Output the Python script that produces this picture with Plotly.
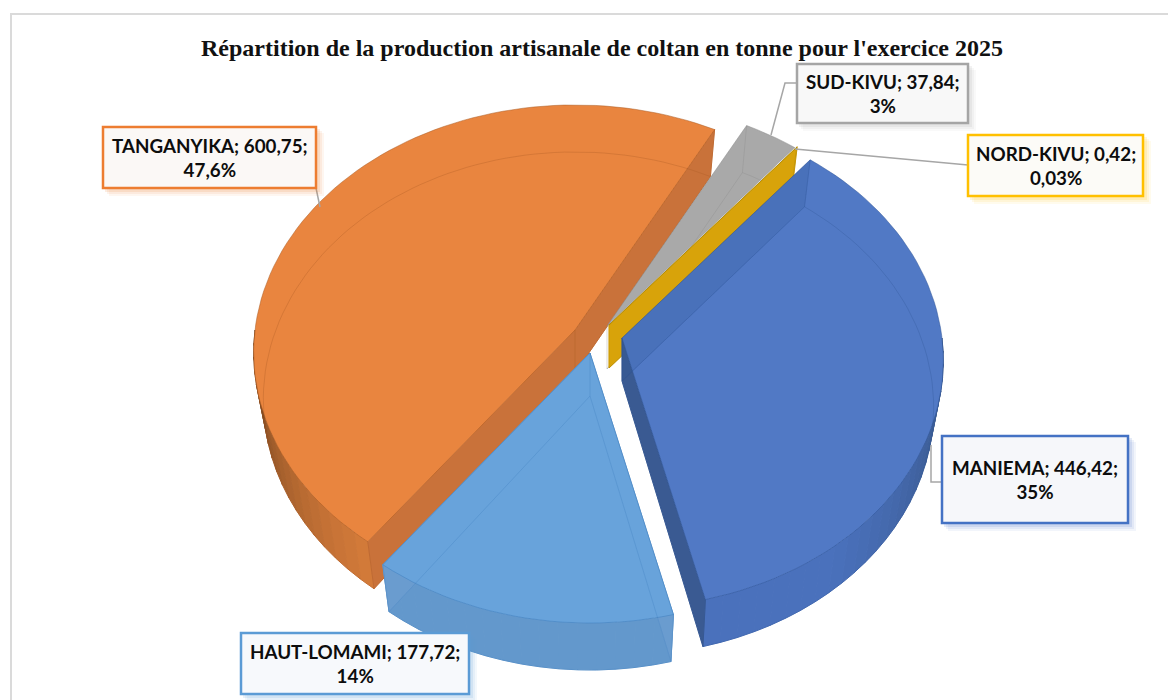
import plotly.graph_objects as go
import math

# ---- data ----
regions = ["TANGANYIKA", "SUD-KIVU", "NORD-KIVU", "MANIEMA", "HAUT-LOMAMI"]
tonnes = [600.75, 37.84, 0.42, 446.42, 177.72]
share_labels = ["47,6%", "3%", "0,03%", "35%", "14%"]
title_text = "Répartition de la production artisanale de coltan en tonne pour l'exercice 2025"

# ---- styling and layout ----
top_colors = ["#E9853F", "#A9A9A9", "#DDA80C", "#5179C5", "#68A3DB"]
cut_colors = ["#C9723A", "#8E8E8E", "#D8A30A", "#3A5A92", "#6A9CCF"]
wall_far = ["#6E3F1C", "#8E8E8E", "#B98E10", "#34517F", "#6398CC"]
wall_near = ["#D47B3A", "#8E8E8E", "#B98E10", "#4A71BC", "#6398CC"]
line_colors = ["#A85A22", "#8A8A8A", "#A88608", "#2F5597", "#3F7FBF"]
apexes = [(575, 330), (607, 326), (609, 325), (622, 338), (590, 353)]
START = 216.9
RX, RY, PERSP, DEPTH, BASE_SCALE = 320, 245.5, 0.0909, 47, 0.97

boxes = [
    (103, 127, 316, 188, "#ED7D31", "#FBF8F6"),
    (797, 64, 968, 123, "#A5A5A5", "#F8F8F8"),
    (968, 135, 1143, 196, "#FFC000", "#FCFBF7"),
    (942, 436, 1128, 523, "#4472C4", "#F6F7FA"),
    (241, 633, 469, 694, "#5B9BD5", "#F7F9FC"),
]
leaders = [
    [(316, 188), (320, 207)],
    [(797, 83), (785, 83), (771, 135)],
    [(968, 165), (795, 149)],
    [(942, 482), (931, 482), (931, 445)],
]


def point(i, deg, level=0):
    ax, ay = apexes[i]
    t = math.radians(deg)
    u, v = math.sin(t), -math.cos(t)
    w = 1 / (1 - PERSP * v)
    x, y = RX * u * w, RY * v * w
    if level:
        return ax + x * BASE_SCALE, ay + DEPTH + y
    return ax + x, ay + y


def apex(i, level=0):
    ax, ay = apexes[i]
    return (ax, ay + DEPTH - 4) if level else (ax, ay)


def arc(i, a, b, level=0, step=2.0):
    n = max(1, int(abs(b - a) / step))
    return [point(i, a + (b - a) * k / n, level) for k in range(n + 1)]


def mix(c1, c2, f):
    p = [int(c1[j:j + 2], 16) for j in (1, 3, 5)]
    q = [int(c2[j:j + 2], 16) for j in (1, 3, 5)]
    return "#%02X%02X%02X" % tuple(round(a + (b - a) * f) for a, b in zip(p, q))


fig = go.Figure()


def poly(pts, fill, name, line=None, lw=1.0):
    xs = [p[0] for p in pts] + [pts[0][0]]
    ys = [p[1] for p in pts] + [pts[0][1]]
    fig.add_trace(go.Scatter(x=xs, y=ys, mode="lines", fill="toself", fillcolor=fill,
                             line=dict(color=line or fill, width=lw),
                             name=name, hoveron="fills", showlegend=False))


def stroke(pts, color, name, lw=0.7):
    fig.add_trace(go.Scatter(x=[p[0] for p in pts], y=[p[1] for p in pts], mode="lines",
                             line=dict(color=color, width=lw), name=name,
                             hoverinfo="skip", showlegend=False))


total = sum(tonnes)
spans = []
a = START
for v in tonnes:
    b = a + v / total * 360
    spans.append((a - 360, b - 360) if a >= 360 else (a, b))
    a = b

for i in range(len(regions)):
    a, b = spans[i]
    name = regions[i]
    # outer rim, only where it faces the viewer
    lo, hi = max(a, 90), min(b, 270)
    if hi > lo:
        n = max(1, int((hi - lo) / 3))
        for k in range(n):
            s0 = lo + (hi - lo) * k / n
            s1 = lo + (hi - lo) * (k + 1) / n
            mid = (s0 + s1) / 2
            f = max(0.0, min(1.0, abs(math.cos(math.radians(mid))) * 1.25))
            poly(arc(i, s0, s1) + arc(i, s1, s0, 1), mix(wall_far[i], wall_near[i], f), name)
    # cut faces turned towards the viewer
    if i in (0, 2, 3, 4):
        poly([apex(i), point(i, b), point(i, b, 1), apex(i, 1)], cut_colors[i], name)
    if i in (0, 4):
        poly([apex(i), point(i, a), point(i, a, 1), apex(i, 1)], cut_colors[i], name)
    # top face
    poly([apex(i)] + arc(i, a, b), top_colors[i], name, line=line_colors[i], lw=0.5)
    # see-through back edges of the base
    lc = "rgba(%d,%d,%d,0.45)" % tuple(int(line_colors[i][j:j + 2], 16) for j in (1, 3, 5))
    stroke([apex(i, 1)] + arc(i, a, b, 1) + [apex(i, 1)], lc, name)
    stroke([apex(i), apex(i, 1)], lc, name)
    stroke([point(i, a), point(i, a, 1)], lc, name)
    stroke([point(i, b), point(i, b, 1)], lc, name)
    if i == 3:
        poly([apex(i), point(i, a), point(i, a, 1), apex(i, 1)], "rgba(47,85,151,0.22)", name,
             line="rgba(47,85,151,0.3)", lw=0.3)

shapes = [dict(type="rect", x0=11, y0=14, x1=1190, y1=720, line=dict(color="#DADADA", width=2),
               fillcolor="white", layer="below")]
for pts in leaders:
    path = "M " + " L ".join(f"{x},{y}" for x, y in pts)
    shapes.append(dict(type="path", path=path, line=dict(color="#A6A6A6", width=1.5), layer="above"))
annotations = []
for i, (x0, y0, x1, y1, border, bg) in enumerate(boxes):
    for off, op in ((8, 0.07), (6, 0.09), (4, 0.14)):
        shapes.append(dict(type="rect", x0=x0 + off - 2, y0=y0 + off - 2, x1=x1 + off, y1=y1 + off,
                           layer="above", fillcolor=border, opacity=op, line=dict(width=0)))
    shapes.append(dict(type="rect", x0=x0, y0=y0, x1=x1, y1=y1, layer="above", fillcolor=bg,
                       line=dict(color=border, width=2.5)))
    val = f"{tonnes[i]:.2f}".replace(".", ",")
    annotations.append(dict(x=(x0 + x1) / 2, y=(y0 + y1) / 2, xref="x", yref="y", showarrow=False,
                            text=f"<b>{regions[i]}; {val};<br>{share_labels[i]}</b>", align="center",
                            font=dict(family="Lato, Carlito, sans-serif", size=18.8, color="#0D0D0D")))
annotations.append(dict(x=602, y=48, xref="x", yref="y", showarrow=False,
                        text=f"<b>{title_text}</b>",
                        font=dict(family="Liberation Serif, serif", size=24, color="#111111")))

fig.update_layout(width=1168, height=700, autosize=False, margin=dict(l=0, r=0, t=0, b=0),
                  paper_bgcolor="white", plot_bgcolor="white", shapes=shapes,
                  annotations=annotations,
                  xaxis=dict(range=[0, 1168], visible=False, fixedrange=True),
                  yaxis=dict(range=[700, 0], visible=False, fixedrange=True))
fig.write_html("out.html", config=dict(displayModeBar=False),
               post_script="document.body.style.margin='0';document.documentElement.style.overflow='hidden';")
